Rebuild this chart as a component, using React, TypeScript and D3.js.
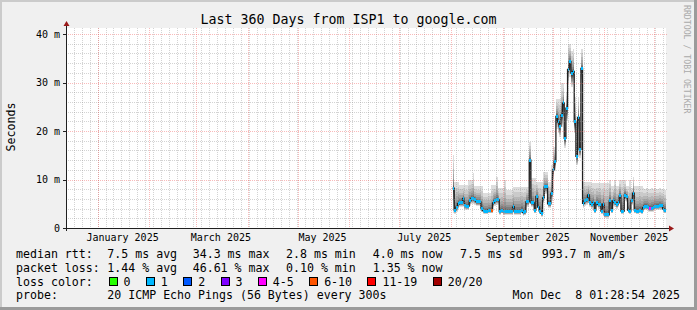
import React from 'react';
import * as d3 from 'd3';

// ---------- data ----------
const TITLE = 'Last 360 Days from ISP1 to google.com';
const Y_LABEL = 'Seconds';
const CREDIT = 'RRDTOOL / TOBI OETIKER';
const END_TIME = new Date(2025, 11, 8, 1, 28, 54);
const SPAN_DAYS = 360;
const DATA_START = new Date(2025, 7, 2);
const Y_MAX_MS = 41.24;
const yTicks = [0, 10, 20, 30, 40];
const yTickLabels = ['0', '10 m', '20 m', '30 m', '40 m'];

// daily median rtt (ms), starting DATA_START
const medianMs = [
  8.2, 3.7, 4.3, 5.0, 5.2, 5.2, 6.1, 4.6, 4.5, 4.5,
  5.6, 6.1, 6.1, 5.8, 5.4, 5.4, 5.4, 4.0, 3.6, 3.5,
  3.5, 3.7, 3.7, 3.7, 5.2, 5.6, 5.8, 5.8, 3.4, 3.7,
  3.4, 3.4, 3.4, 3.4, 3.4, 3.4, 4.4, 3.4, 3.4, 3.4,
  3.4, 3.7, 3.2, 3.3, 5.4, 5.4, 14.0, 5.2, 5.2, 3.7,
  6.5, 4.3, 3.5, 3.0, 6.2, 8.5, 8.5, 5.0, 5.0, 7.2,
  12.0, 13.7, 23.0, 21.9, 21.0, 23.3, 25.8, 18.5, 24.7, 32.7,
  34.3, 31.9, 32.3, 21.9, 14.8, 22.8, 16.2, 32.9, 5.1, 5.6,
  5.8, 6.8, 5.3, 4.9, 5.2, 3.7, 5.2, 4.9, 4.9, 3.5,
  4.9, 2.7, 2.7, 2.7, 5.6, 3.7, 5.6, 5.3, 4.9, 5.2,
  6.6, 3.5, 3.5, 6.8, 6.4, 3.7, 3.5, 5.7, 7.2, 3.7,
  3.5, 3.5, 3.7, 3.5, 4.2, 4.5, 4.5, 4.2, 4.1, 4.1,
  4.2, 4.5, 4.5, 4.5, 4.6, 4.6, 3.9, 3.7,
];
// daily slowest ping (ms)
const maxMs = [
  15.0, 9.5, 9.5, 9.5, 8.8, 8.8, 8.8, 8.8, 8.8, 9.8,
  9.8, 9.8, 11.3, 8.6, 8.6, 8.6, 8.6, 8.6, 7.3, 7.3,
  7.3, 7.3, 7.3, 8.8, 8.8, 8.8, 10.6, 8.2, 8.2, 8.2,
  8.2, 9.9, 7.8, 7.8, 7.8, 7.8, 8.5, 8.5, 8.5, 8.5,
  8.5, 8.5, 8.5, 8.5, 8.5, 8.5, 17.8, 10.3, 10.3, 10.3,
  9.5, 9.5, 9.5, 9.5, 11.5, 11.5, 11.5, 9.5, 9.5, 13.0,
  16.8, 16.8, 26.7, 26.7, 26.7, 29.8, 29.8, 24.0, 28.0, 38.0,
  38.0, 36.5, 37.0, 27.0, 21.0, 27.0, 22.0, 37.0, 9.5, 9.5,
  9.5, 9.5, 9.5, 9.2, 9.2, 9.2, 9.2, 9.2, 9.2, 9.2,
  9.2, 9.2, 9.2, 9.2, 10.0, 8.6, 8.6, 10.0, 8.6, 8.6,
  9.8, 9.8, 10.0, 9.8, 8.6, 8.6, 10.0, 8.2, 10.6, 8.6,
  8.6, 8.6, 8.6, 8.6, 8.2, 8.0, 8.2, 8.0, 8.0, 8.2,
  8.0, 8.2, 8.0, 8.0, 8.2, 8.0, 8.0, 7.8,
];
// daily fastest ping (ms)
const minMs = [
  3.0, 2.9, 3.4, 4.0, 4.3, 4.3, 5.0, 3.8, 3.7, 3.7,
  4.6, 5.0, 5.0, 4.8, 4.5, 4.5, 4.5, 3.2, 2.9, 2.8,
  2.8, 3.0, 3.0, 3.0, 4.3, 4.6, 4.8, 4.8, 2.7, 3.0,
  2.7, 2.7, 2.7, 2.7, 2.7, 2.7, 3.6, 2.7, 2.7, 2.7,
  2.7, 3.0, 2.5, 2.6, 4.4, 4.4, 5.0, 4.3, 4.3, 3.0,
  5.4, 3.5, 2.8, 2.3, 5.1, 7.0, 7.0, 4.1, 4.1, 6.0,
  10.2, 11.8, 20.5, 19.5, 18.8, 20.8, 23.0, 16.5, 22.0, 29.8,
  31.2, 29.0, 29.5, 19.5, 13.0, 20.5, 14.5, 29.5, 4.2, 4.6,
  4.8, 5.6, 4.4, 4.0, 4.3, 3.0, 4.3, 4.0, 4.0, 2.8,
  4.0, 2.1, 2.1, 2.1, 4.6, 3.0, 4.6, 4.4, 4.0, 4.3,
  5.5, 2.8, 2.8, 5.6, 5.3, 3.0, 2.8, 4.7, 6.0, 3.0,
  2.8, 2.8, 3.0, 2.8, 3.4, 3.7, 3.7, 3.4, 3.3, 3.3,
  3.4, 3.7, 3.7, 3.7, 3.8, 3.8, 3.2, 3.0,
];
const DEFAULT_LOSS = '1';
const lossOverrideDays = [23, 118];
const lossOverrideLevels = ['6-10', '4-5'];

const lossLevels = ['0', '1', '2', '3', '4-5', '6-10', '11-19', '20/20'];
const lossColors = ['#26ff00', '#00b8ff', '#0059ff', '#7e00ff', '#ff00ff', '#ff5500', '#ff0000', '#a10000'];

const rttLabel = 'median rtt:';
const rttStats = ['7.5 ms avg', '34.3 ms max', '2.8 ms min', '4.0 ms now', '7.5 ms sd', '993.7 m am/s'];
const lossLabel = 'packet loss:';
const lossStats = ['1.44 % avg', '46.61 % max', '0.10 % min', '1.35 % now'];
const lossColorLabel = 'loss color:';
const probeLabel = 'probe:';
const probeText = '20 ICMP Echo Pings (56 Bytes) every 300s';
const stampText = 'Mon Dec\u00a0\u00a08 01:28:54 2025';

// ---------- layout ----------
const W = 697, H = 310;
const PL = 66, PR = 666, PT = 28, PB = 228;
const FONT = '"DejaVu Sans Mono", monospace';
const CH = 6.98; // char width of legend font
const statX = [107.3, 192.7, 286, 372.7, 460, 541.7];

export default function App() {
  const tStart = d3.timeDay.offset(END_TIME, -SPAN_DAYS);
  const x = d3.scaleTime().domain([tStart, END_TIME]).range([PL, PR]);
  const y = d3.scaleLinear().domain([0, Y_MAX_MS]).range([PB, PT]);

  const n = medianMs.length;
  const days = d3.range(n).map((i) => d3.timeDay.offset(DATA_START, i));
  const dayEnd = (i: number) => {
    const e = d3.timeDay.offset(DATA_START, i + 1);
    return e > END_TIME ? END_TIME : e;
  };

  // smoke bands: outer (light) to inner (dark)
  const HALF = 10;
  const bands = d3.range(1, HALF + 1).map((i) => {
    const g = Math.round((190 / HALF) * (HALF - i)) + 50;
    const color = `rgb(${g},${g},${g})`;
    const pts = days.map((d, k) => {
      const lo = minMs[k], med = medianMs[k], hi = maxMs[k];
      const low = lo + (med - lo) * Math.pow((i - 1) / HALF, 0.8);
      const high = med + (hi - med) * Math.pow((HALF + 1 - i) / HALF, 2.4);
      return { t0: d, t1: dayEnd(k), low, high };
    });
    return { color, pts };
  });

  const medPts = days.map((d, k) => ({ t: d, v: medianMs[k] }));
  medPts.push({ t: dayEnd(n - 1), v: medianMs[n - 1] });
  const medLine = d3
    .line<{ t: Date; v: number }>()
    .x((p) => x(p.t))
    .y((p) => y(p.v))
    .curve(d3.curveStepAfter)(medPts) || '';

  const areaGen = d3
    .area<{ t: Date; low: number; high: number }>()
    .x((p) => x(p.t))
    .y0((p) => y(p.low))
    .y1((p) => y(p.high))
    .curve(d3.curveStepAfter);

  const lossOf = (k: number) => {
    const j = lossOverrideDays.indexOf(k);
    return j >= 0 ? lossOverrideLevels[j] : DEFAULT_LOSS;
  };

  // grid
  const months = d3.timeMonth.range(d3.timeMonth.ceil(tStart), END_TIME);
  const labelMonthsArr = months.filter((m) => m.getMonth() % 2 === 0);
  const minorDays: Date[] = [];
  const anchor = new Date(2025, 0, 1);
  const STEP = 4.78;
  for (let k = -10; k < 80; k++) {
    const t = new Date(anchor.getTime() + k * STEP * 86400000);
    if (t > tStart && t < END_TIME) minorDays.push(t);
  }
  const minorY = d3.range(2, Y_MAX_MS, 2).filter((v) => v % 10 !== 0);
  const majorY = yTicks.filter((v) => v > 0);

  const minorStroke = 'rgba(150,150,150,0.42)';
  const majorStroke = 'rgba(240,90,90,0.42)';
  const arrowColor = '#9a1a1a';

  // legend positions
  const lossBoxes: { x: number; lx: number; label: string; color: string }[] = [];
  let bx = 108.5;
  lossLevels.forEach((lab, i) => {
    lossBoxes.push({ x: bx, lx: bx + 15, label: lab, color: lossColors[i] });
    bx += 15 + lab.length * CH + 2.2 * CH;
  });

  const baseY = [258.3, 272, 285.7, 299.3];

  return (
    <svg
      width={W}
      height={H}
      style={{ position: 'absolute', left: 0, top: 0, display: 'block' }}
      fontFamily={FONT}
    >
      {/* background and border */}
      <rect x={0} y={0} width={W} height={H} fill="#f0f0f0" />
      <rect x={0} y={0} width={W} height={2} fill="#cbcbcb" />
      <rect x={0} y={0} width={2} height={H} fill="#cbcbcb" />
      <rect x={W - 3} y={0} width={3} height={H} fill="#9b9b9b" />
      <rect x={0} y={H - 3} width={W} height={3} fill="#9b9b9b" />

      {/* canvas */}
      <rect x={PL} y={PT} width={PR - PL} height={PB - PT} fill="#ffffff" />

      {/* title */}
      <text x={W / 2} y={24} fontSize={13.3} textAnchor="middle" fill="#000">
        {TITLE}
      </text>

      {/* smoke */}
      <g shapeRendering="crispEdges">
        {bands.map((b, i) => {
          const last = b.pts[b.pts.length - 1];
          const pts = [...b.pts.map((p) => ({ t: p.t0, low: p.low, high: p.high })), { t: last.t1, low: last.low, high: last.high }];
          return <path key={i} d={areaGen(pts) || ''} fill={b.color} />;
        })}
      </g>

      {/* median line */}
      <path d={medLine} fill="none" stroke="#202020" strokeWidth={1.3} />
      {/* loss colored median band */}
      <g shapeRendering="crispEdges">
        {days.map((d, k) => {
          const lvl = lossOf(k);
          const c = lossColors[lossLevels.indexOf(lvl)];
          const x0 = x(d), x1 = x(dayEnd(k));
          return <rect key={k} x={x0} y={y(medianMs[k]) - 1.5} width={Math.max(0.5, x1 - x0)} height={3} fill={c} />;
        })}
      </g>

      {/* grid on top */}
      <g shapeRendering="crispEdges" strokeDasharray="1,1">
        {minorDays.map((t, i) => (
          <line key={'mv' + i} x1={Math.round(x(t)) + 0.5} x2={Math.round(x(t)) + 0.5} y1={PT} y2={PB} stroke={minorStroke} />
        ))}
        {minorY.map((v, i) => (
          <line key={'mh' + i} x1={PL} x2={PR + 2} y1={Math.round(y(v)) + 0.5} y2={Math.round(y(v)) + 0.5} stroke={minorStroke} />
        ))}
        {months.map((t, i) => (
          <line key={'Mv' + i} x1={Math.round(x(t)) + 0.5} x2={Math.round(x(t)) + 0.5} y1={PT} y2={PB + 2} stroke={majorStroke} />
        ))}
        {majorY.map((v, i) => (
          <line key={'Mh' + i} x1={PL} x2={PR + 2} y1={Math.round(y(v)) + 0.5} y2={Math.round(y(v)) + 0.5} stroke={majorStroke} />
        ))}
      </g>

      {/* axes */}
      <g shapeRendering="crispEdges">
        <line x1={PL + 0.5} x2={PL + 0.5} y1={PB + 3} y2={PT - 4} stroke="#202020" />
        <line x1={PL - 3} x2={PR + 6} y1={PB + 0.5} y2={PB + 0.5} stroke="#202020" />
        {yTicks.map((v, i) => (
          <line key={'yt' + i} x1={PL - 3} x2={PL} y1={Math.round(y(v)) + 0.5} y2={Math.round(y(v)) + 0.5} stroke="#202020" />
        ))}
      </g>
      <path d={`M${PL - 2.5},${PT - 2} L${PL + 3.5},${PT - 2} L${PL + 0.5},${PT - 7} Z`} fill={arrowColor} />
      <path d={`M${PR + 3},${PB - 2.5} L${PR + 3},${PB + 3.5} L${PR + 8},${PB + 0.5} Z`} fill={arrowColor} />

      {/* y tick labels */}
      {yTicks.map((v, i) => (
        <text key={'yl' + i} x={60} y={y(v)} fontSize={10} textAnchor="end" dominantBaseline="central" fill="#000">
          {yTickLabels[i]}
        </text>
      ))}
      {/* x labels */}
      {labelMonthsArr.map((t, i) => (
        <text key={'xl' + i} x={x(d3.timeDay.offset(t, 15))} y={241} fontSize={10} textAnchor="middle" fill="#000">
          {d3.timeFormat('%B %Y')(t)}
        </text>
      ))}

      {/* y label */}
      <text transform={`translate(15,127) rotate(-90)`} fontSize={11.6} textAnchor="middle" fill="#000">
        {Y_LABEL}
      </text>
      {/* credit */}
      <text transform={`translate(683.5,5) rotate(90)`} fontSize={8.2} fill="#aaaaaa">
        {CREDIT}
      </text>

      {/* legend */}
      <g fontSize={11.6} fill="#000">
        <text x={16} y={baseY[0]}>{rttLabel}</text>
        {rttStats.map((s, i) => (
          <text key={'r' + i} x={statX[i]} y={baseY[0]}>{s}</text>
        ))}
        <text x={16} y={baseY[1]}>{lossLabel}</text>
        {lossStats.map((s, i) => (
          <text key={'l' + i} x={statX[i]} y={baseY[1]}>{s}</text>
        ))}
        <text x={16} y={baseY[2]}>{lossColorLabel}</text>
        {lossBoxes.map((b, i) => (
          <g key={'b' + i}>
            <rect x={Math.round(b.x) + 0.5} y={277.5} width={8} height={8} fill={b.color} stroke="#000" shapeRendering="crispEdges" />
            <text x={b.lx} y={baseY[2]}>{b.label}</text>
          </g>
        ))}
        <text x={16} y={baseY[3]}>{probeLabel}</text>
        <text x={statX[0]} y={baseY[3]}>{probeText}</text>
        <text x={680} y={baseY[3]} textAnchor="end">{stampText}</text>
      </g>
    </svg>
  );
}
